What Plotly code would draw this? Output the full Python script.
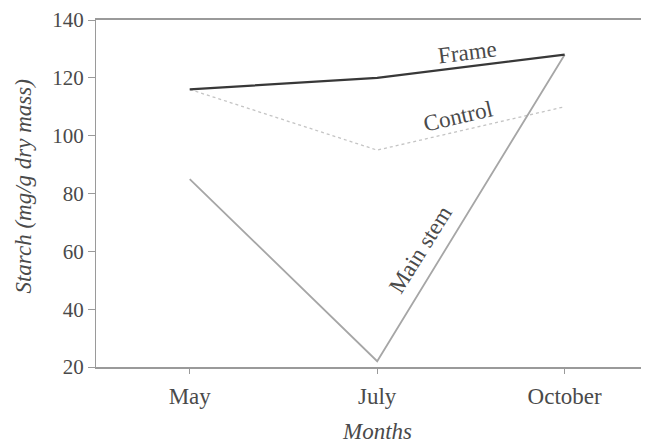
import plotly.graph_objects as go

months = ["May", "July", "October"]
frame = [116, 120, 128]
control = [116, 95, 110]
main_stem = [85, 22, 128]
y_ticks = [20, 40, 60, 80, 100, 120, 140]

FONT = "Liberation Serif, Times New Roman, serif"
TXT = "#4a4a4a"

fig = go.Figure()
fig.add_trace(go.Scatter(x=months, y=control, mode="lines", name="Control",
                         line=dict(color="#c4c4c4", width=1.3, dash="dot")))
fig.add_trace(go.Scatter(x=months, y=main_stem, mode="lines", name="Main stem",
                         line=dict(color="#a6a6a6", width=1.8)))
fig.add_trace(go.Scatter(x=months, y=frame, mode="lines", name="Frame",
                         line=dict(color="#383838", width=2.2)))

ann_font = dict(family=FONT, size=23, color=TXT)
fig.add_annotation(x=1.48, y=128.6, xref="x", yref="y", text="Frame", showarrow=False,
                   textangle=-7, font=ann_font)
fig.add_annotation(x=1.43, y=106.5, xref="x", yref="y", text="Control", showarrow=False,
                   textangle=-13, font=ann_font)
fig.add_annotation(x=1.23, y=60.8, xref="x", yref="y", text="Main stem", showarrow=False,
                   textangle=-58, font=ann_font)

# axis titles
fig.add_annotation(x=1, y=0, xref="x", yref="paper", text="<i>Months</i>",
                   showarrow=False, xanchor="center", yanchor="top", yshift=-50,
                   font=dict(family=FONT, size=23, color=TXT))
fig.add_annotation(x=0, y=0.52, xref="paper", yref="paper", text="<i>Starch (mg/g dry mass)</i>",
                   showarrow=False, xanchor="center", yanchor="middle", xshift=-72,
                   textangle=-90, font=dict(family=FONT, size=23, color=TXT))

fig.update_layout(
    width=641, height=436,
    margin=dict(l=88, r=0, t=9, b=77),
    paper_bgcolor="white", plot_bgcolor="white",
    showlegend=False,
    font=dict(family=FONT, size=21, color=TXT),
    xaxis=dict(
        type="category", range=[-0.5, 2.45],
        showline=True, linecolor="#9a9a9a", linewidth=1.5, mirror=True,
        ticks="outside", ticklen=5, tickcolor="#9a9a9a",
        showgrid=False, zeroline=False,
        tickfont=dict(family=FONT, size=23, color=TXT),
        ticklabelstandoff=3,
    ),
    yaxis=dict(
        range=[20, 140], tickvals=y_ticks,
        showline=True, linecolor="#9a9a9a", linewidth=1.2,
        ticks="outside", ticklen=7, tickcolor="#9a9a9a",
        showgrid=False, zeroline=False,
        ticklabeloverflow="allow",
        tickfont=dict(family=FONT, size=21, color=TXT),
    ),
)

fig.write_html("out.html")
